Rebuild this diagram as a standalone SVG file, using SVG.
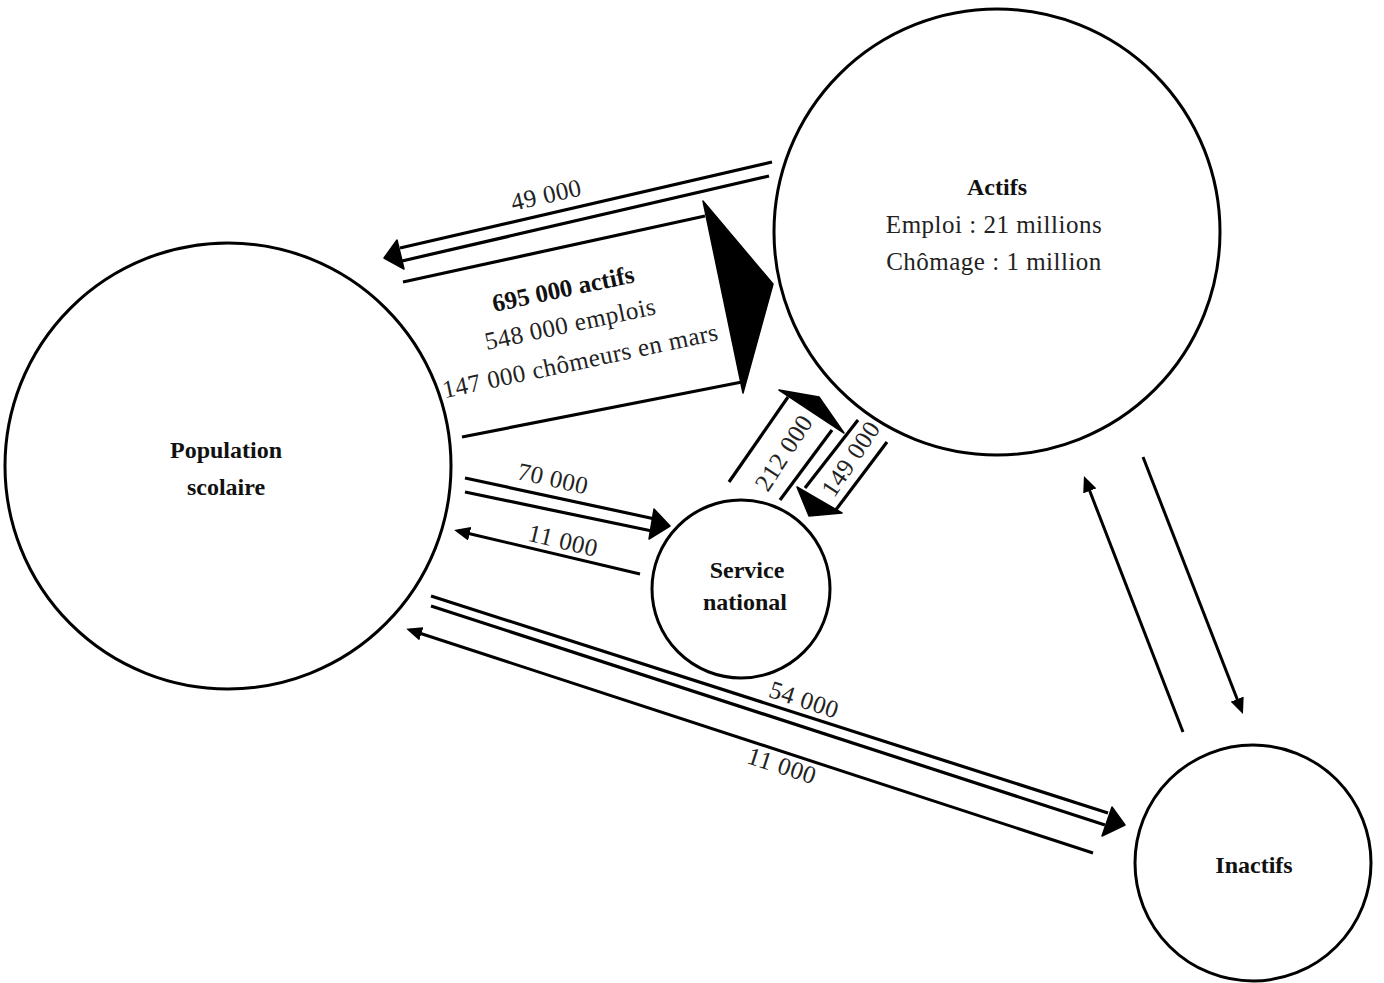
<svg xmlns="http://www.w3.org/2000/svg" width="1384" height="983" viewBox="0 0 1384 983">
<style>
.node{fill:#fff;stroke:#000;stroke-width:3}
.ln{stroke:#000;stroke-width:3.2;fill:none;stroke-linecap:butt}
.sl{stroke:#000;stroke-width:3;fill:none}
.hd{fill:#000;stroke:#000;stroke-width:1.5;stroke-linejoin:round}
.b{font-family:"Liberation Serif","Times New Roman",serif;font-weight:bold;font-size:24px;text-anchor:middle;fill:#111}
.r{font-family:"Liberation Serif","Times New Roman",serif;font-size:25px;text-anchor:middle;fill:#222;letter-spacing:0.5px}
</style>
<defs>
<marker id="ah" markerUnits="userSpaceOnUse" viewBox="0 0 16 14" markerWidth="16" markerHeight="14" refX="12" refY="7" orient="auto">
<path d="M0,0 L16,7 L0,14 z" fill="#000"/>
</marker>
</defs>
<rect width="1384" height="983" fill="#fff"/>

<g id="population-scolaire">
<circle class="node" cx="228" cy="466" r="223"/>
<text class="b" x="226" y="458">Population</text>
<text class="b" x="226" y="495">scolaire</text>
</g>
<g id="actifs">
<circle class="node" cx="997" cy="232" r="223"/>
<text class="b" x="997" y="195">Actifs</text>
<text class="r" x="994" y="233">Emploi : 21 millions</text>
<text class="r" x="994" y="270">Chômage : 1 million</text>
</g>
<g id="service-national">
<circle class="node" cx="741" cy="589" r="89"/>
<text class="b" x="747" y="578">Service</text>
<text class="b" x="745" y="610">national</text>
</g>
<g id="inactifs">
<circle class="node" cx="1253" cy="863" r="118"/>
<text class="b" x="1254" y="873">Inactifs</text>
</g>

<g id="connectors">
<!-- 49 000 : Actifs -> Population scolaire -->
<line class="ln" x1="772" y1="162" x2="400" y2="248"/>
<line class="ln" x1="769" y1="176" x2="402" y2="261"/>
<polygon class="hd" points="384,258 397,240 404,269"/>
<text class="r" transform="translate(548,203) rotate(-12.7)">49 000</text>

<!-- 695 000 actifs : big arrow -->
<line class="ln" x1="403" y1="282" x2="705" y2="216"/>
<line class="ln" x1="462" y1="437" x2="742" y2="382"/>
<polygon class="hd" points="703,201 773,284 743,393"/>
<text class="b" style="font-size:25px" transform="translate(565,297) rotate(-12)">695 000 actifs</text>
<text class="r" transform="translate(572,332) rotate(-12)">548 000 emplois</text>
<text class="r" transform="translate(582,369) rotate(-12)">147 000 chômeurs en mars</text>

<!-- 70 000 : Population scolaire -> Service national -->
<line class="ln" x1="465" y1="478" x2="655" y2="519"/>
<line class="ln" x1="465" y1="492" x2="652" y2="531"/>
<polygon class="hd" points="670,526 654,509 649,539"/>
<text class="r" transform="translate(553,479) rotate(12.7)" y="8">70 000</text>

<!-- 11 000 : Service national -> Population scolaire -->
<line class="sl" x1="640" y1="574" x2="458" y2="531" marker-end="url(#ah)"/>
<text class="r" transform="translate(563,541) rotate(13.4)" y="8">11 000</text>

<!-- 212 000 : Service national -> Actifs -->
<line class="ln" x1="729" y1="482" x2="788" y2="397"/>
<line class="ln" x1="780" y1="500" x2="832" y2="430"/>
<polygon class="hd" points="779,390 819,397 844,433"/>
<text class="r" transform="translate(784,453) rotate(-57)" y="8">212 000</text>

<!-- 149 000 : Actifs -> Service national -->
<line class="ln" x1="858" y1="420" x2="805" y2="488"/>
<line class="ln" x1="887" y1="442" x2="835" y2="511"/>
<polygon class="hd" points="797,487 842,513 809,516"/>
<text class="r" transform="translate(851,459) rotate(-56)" y="8">149 000</text>

<!-- 54 000 : Population scolaire -> Inactifs -->
<line class="ln" x1="431" y1="596" x2="1108" y2="813"/>
<line class="ln" x1="431" y1="606" x2="1105" y2="825"/>
<polygon class="hd" points="1125,825 1112,807 1102,836"/>
<text class="r" transform="translate(804,700) rotate(18)" y="8">54 000</text>

<!-- 11 000 : Inactifs -> Population scolaire -->
<line class="sl" x1="1093" y1="853" x2="410" y2="630" marker-end="url(#ah)"/>
<text class="r" transform="translate(782,766) rotate(18)" y="8">11 000</text>

<!-- Inactifs -> Actifs -->
<line class="sl" x1="1183" y1="732" x2="1085.4" y2="479.7" marker-end="url(#ah)"/>
<!-- Actifs -> Inactifs -->
<line class="sl" x1="1143" y1="457" x2="1241.5" y2="710.3" marker-end="url(#ah)"/>
</g>
</svg>
